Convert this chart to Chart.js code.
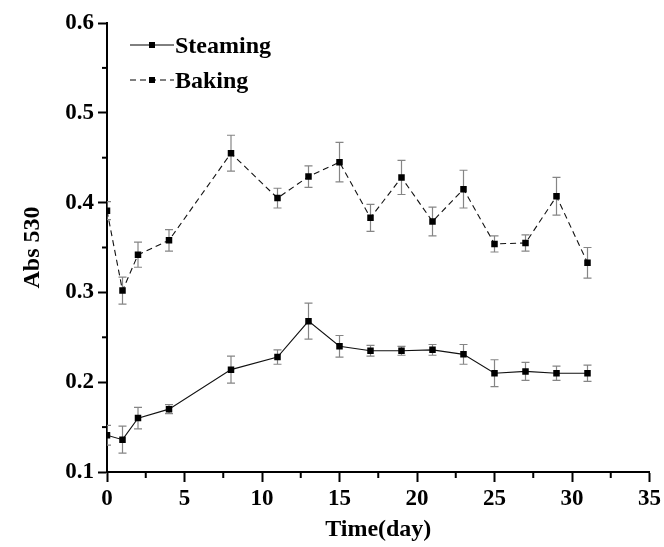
<!DOCTYPE html>
<html>
<head>
<meta charset="utf-8">
<script src="https://cdn.jsdelivr.net/npm/chart.js@4.4.1/dist/chart.umd.min.js"></script>
<style>
  html, body { margin: 0; padding: 0; background: #fff; }
  #wrap { width: 664px; height: 547px; }
</style>
</head>
<body>
<div id="wrap"><canvas id="chart" width="664" height="547"></canvas></div>
<script>
  // values
  const days = [0, 1, 2, 4, 8, 11, 13, 15, 17, 19, 21, 23, 25, 27, 29, 31];
  const steaming = [0.141, 0.136, 0.160, 0.170, 0.214, 0.228, 0.268, 0.240, 0.235, 0.235, 0.236, 0.231, 0.210, 0.212, 0.210, 0.210];
  const steamingErr = [0.011, 0.015, 0.012, 0.005, 0.015, 0.008, 0.020, 0.012, 0.006, 0.005, 0.006, 0.011, 0.015, 0.010, 0.008, 0.009];
  const baking = [0.391, 0.302, 0.342, 0.358, 0.455, 0.405, 0.429, 0.445, 0.383, 0.428, 0.379, 0.415, 0.354, 0.355, 0.407, 0.333];
  const bakingErr = [0.010, 0.015, 0.014, 0.012, 0.020, 0.011, 0.012, 0.022, 0.015, 0.019, 0.016, 0.021, 0.009, 0.009, 0.021, 0.017];
  const seriesNames = ['Steaming', 'Baking'];
  const xTitle = 'Time(day)';
  const yTitle = 'Abs 530';

  const FONT = 'Liberation Serif, Times New Roman, serif';

  function toPoints(ys) {
    return days.map((d, i) => ({ x: d, y: ys[i] }));
  }

  const isMajorX = (v) => Math.abs(v % 5) < 1e-6;
  const isMajorY = (v) => Math.round(v * 100) % 10 === 0;

  // error bars + minor ticks, all placed through the scales
  const extrasPlugin = {
    id: 'extras',
    beforeDatasetsDraw(chart) {
      const { ctx, chartArea, scales: { x, y } } = chart;
      ctx.save();
      ctx.beginPath();
      ctx.rect(chartArea.left, chartArea.top - 5, chartArea.right - chartArea.left, chartArea.bottom - chartArea.top + 5);
      ctx.clip();
      ctx.strokeStyle = '#858585';
      ctx.lineWidth = 1.2;
      chart.data.datasets.forEach((ds) => {
        ds.data.forEach((p, i) => {
          const px = x.getPixelForValue(p.x);
          const top = y.getPixelForValue(p.y + ds.errors[i]);
          const bot = y.getPixelForValue(p.y - ds.errors[i]);
          ctx.beginPath();
          ctx.moveTo(px, top); ctx.lineTo(px, bot);
          ctx.moveTo(px - 4, top); ctx.lineTo(px + 4, top);
          ctx.moveTo(px - 4, bot); ctx.lineTo(px + 4, bot);
          ctx.stroke();
        });
      });
      ctx.restore();
    },
    afterDraw(chart) {
      const { ctx, chartArea, scales: { x, y } } = chart;
      ctx.save();
      ctx.strokeStyle = '#000';
      ctx.lineWidth = 2;
      x.ticks.forEach((t) => {
        if (isMajorX(t.value)) return;
        const px = x.getPixelForValue(t.value);
        ctx.beginPath();
        ctx.moveTo(px, chartArea.bottom);
        ctx.lineTo(px, chartArea.bottom + 6);
        ctx.stroke();
      });
      y.ticks.forEach((t) => {
        if (isMajorY(t.value)) return;
        const py = y.getPixelForValue(t.value);
        ctx.beginPath();
        ctx.moveTo(chartArea.left, py);
        ctx.lineTo(chartArea.left - 5, py);
        ctx.stroke();
      });

      // legend, top left inside the plot
      ctx.font = 'bold 24px ' + FONT;
      ctx.textBaseline = 'middle';
      ctx.fillStyle = '#000';
      const rows = [45, 80];
      chart.data.datasets.forEach((ds, i) => {
        const ly = rows[i];
        ctx.strokeStyle = '#000';
        ctx.lineWidth = 1;
        ctx.setLineDash(ds.borderDash || []);
        ctx.beginPath();
        ctx.moveTo(130, ly);
        ctx.lineTo(174, ly);
        ctx.stroke();
        ctx.setLineDash([]);
        ctx.fillRect(149, ly - 3, 6, 6);
        ctx.fillText(ds.label, 175, ly + 2);
      });
      ctx.restore();
    }
  };

  const tickFont = { family: FONT, size: 23, weight: 'bold' };
  const titleFont = { family: FONT, size: 24, weight: 'bold' };

  new Chart(document.getElementById('chart'), {
    type: 'line',
    data: {
      datasets: [
        {
          label: seriesNames[0],
          data: toPoints(steaming),
          errors: steamingErr,
          borderColor: '#111',
          borderWidth: 1.1,
          pointStyle: 'rect',
          pointRadius: 4.6,
          pointBackgroundColor: '#000',
          pointBorderColor: '#000',
          pointBorderWidth: 0,
          tension: 0,
          fill: false,
        },
        {
          label: seriesNames[1],
          data: toPoints(baking),
          errors: bakingErr,
          borderColor: '#111',
          borderWidth: 1.1,
          borderDash: [6, 4],
          pointStyle: 'rect',
          pointRadius: 4.6,
          pointBackgroundColor: '#000',
          pointBorderColor: '#000',
          pointBorderWidth: 0,
          tension: 0,
          fill: false,
        },
      ],
    },
    options: {
      responsive: false,
      animation: false,
      layout: { padding: { top: 23, right: 13, left: 0, bottom: 0 } },
      plugins: { legend: { display: false }, tooltip: { enabled: false } },
      scales: {
        x: {
          type: 'linear',
          min: 0,
          max: 35,
          afterFit: (s) => { s.height = 75; },
          ticks: {
            stepSize: 2.5,
            autoSkip: false,
            maxRotation: 0,
            padding: 3,
            color: '#000',
            font: tickFont,
            callback: (v) => (isMajorX(v) ? String(v) : ''),
          },
          grid: {
            drawOnChartArea: false,
            drawTicks: true,
            tickLength: 10,
            tickWidth: 2,
            tickColor: (c) => (c.tick && isMajorX(c.tick.value) ? '#000' : 'rgba(0,0,0,0)'),
          },
          border: { display: true, color: '#000', width: 2 },
          title: { display: true, text: xTitle, color: '#000', font: titleFont, padding: { top: 0, bottom: 3 } },
        },
        y: {
          type: 'linear',
          min: 0.1,
          max: 0.6,
          afterFit: (s) => { s.width = 107; },
          ticks: {
            stepSize: 0.05,
            autoSkip: false,
            padding: 4,
            color: '#000',
            font: tickFont,
            callback: (v) => (isMajorY(v) ? (Math.round(v * 10) / 10).toFixed(1) : ''),
          },
          grid: {
            drawOnChartArea: false,
            drawTicks: true,
            tickLength: 9,
            tickWidth: 2,
            tickColor: (c) => (c.tick && isMajorY(c.tick.value) ? '#000' : 'rgba(0,0,0,0)'),
          },
          border: { display: true, color: '#000', width: 2 },
          title: { display: true, text: yTitle, color: '#000', font: titleFont, padding: { top: 18, bottom: 0 } },
        },
      },
    },
    plugins: [extrasPlugin],
  });
</script>
</body>
</html>
